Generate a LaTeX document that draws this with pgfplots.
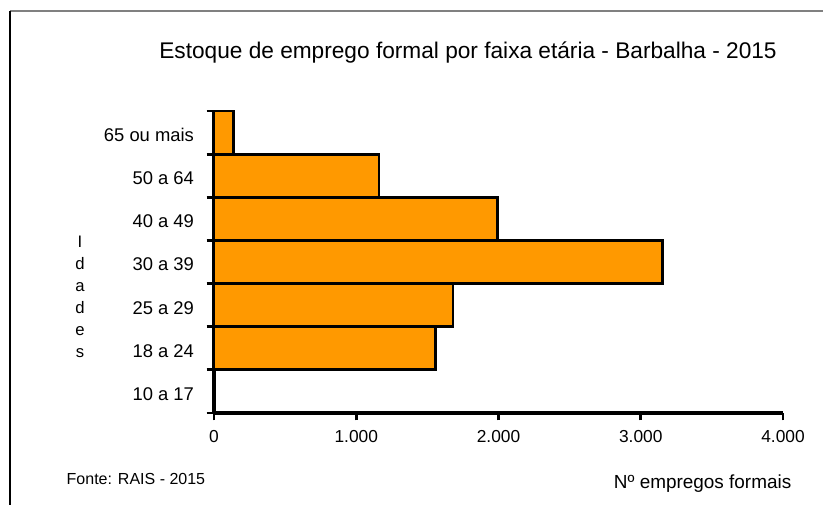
\documentclass[border=0pt]{standalone}
\usepackage{pgfplots}
\pgfplotsset{compat=1.18}
\usepackage{fontspec}
\setmainfont{Liberation Sans}
\definecolor{barorange}{HTML}{FF9900}
\begin{document}
\begin{tikzpicture}[x=0.75pt,y=0.75pt]
\path[use as bounding box] (0,0) rectangle (823,505);
\draw[gray, line width=1.5pt] (10,494) -- (823,494);
\draw[black, line width=0.9pt] (10,494) -- (10,0);
\node[font=\fontsize{17}{20}\selectfont] at (468,452) {Estoque de emprego formal por faixa etária - Barbalha - 2015};
\node[font=\fontsize{12}{14}\selectfont, anchor=west] at (62,26) {Fonte: RAIS - 2015};
\node[font=\fontsize{14.2}{16}\selectfont, anchor=east] at (796,21) {Nº empregos formais};
\node[font=\fontsize{12.5}{16.5}\selectfont, align=center] at (80,208) {I\\d\\a\\d\\e\\s};
\begin{axis}[
  at={(160.5pt,69pt)}, anchor=south west,
  scale only axis, width=426.75pt, height=226.5pt,
  xbar, bar width=1, bar shift=0pt,
  xmin=0, xmax=4000, ymin=-0.5, ymax=6.5,
  axis x line*=bottom, axis y line*=left,
  axis line style={line width=2.8pt, black},
  xtick pos=bottom, ytick pos=left,
  tick align=outside,
  major tick length=5.5pt, minor tick length=5.5pt,
  xtick={0,1000,2000,3000,4000},
  xticklabels={0,1.000,2.000,3.000,4.000},
  x tick style={line width=2.2pt, black},
  ytick={0,1,2,3,4,5,6},
  yticklabels={10 a 17,18 a 24,25 a 29,30 a 39,40 a 49,50 a 64,65 ou mais},
  minor ytick={-0.5,0.5,1.5,2.5,3.5,4.5,5.5,6.5},
  major y tick style={draw=none},
  minor y tick style={line width=2.2pt, black},
  xticklabel style={font=\fontsize{13}{15}\selectfont, yshift=-4pt},
  yticklabel style={font=\fontsize{13.8}{16}\selectfont, xshift=-6pt, yshift=-2pt},
  clip=false,
]
\addplot[fill=barorange, draw=black, line width=2.2pt] coordinates {
  (5,0) (1555,1) (1680,2) (3150,3) (1990,4) (1160,5) (135,6)
};
\end{axis}
\end{tikzpicture}
\end{document}
